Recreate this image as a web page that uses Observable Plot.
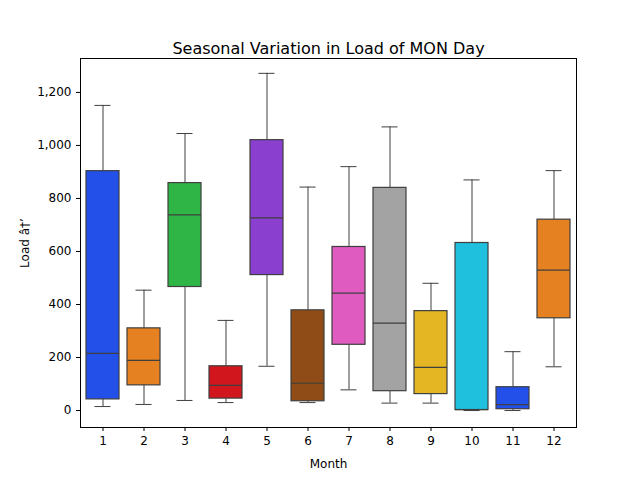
<!DOCTYPE html>
<html><head>
<script src="https://cdn.jsdelivr.net/npm/d3@7"></script>
<script src="https://cdn.jsdelivr.net/npm/@observablehq/plot@0.6"></script>
<style>body{margin:0;background:#fff}</style>
</head><body><div id="chart"></div>
<script>
const months = [1,2,3,4,5,6,7,8,9,10,11,12];
const low    = [15, 23, 38, 30, 167, 30, 78, 28, 28, 0, 0, 165];
const q1     = [42, 95, 466, 45, 511, 35, 248, 73, 62, 2, 5, 348];
const median = [216, 189, 738, 95, 727, 103, 443, 330, 163, 3, 22, 530];
const q3     = [903, 310, 858, 167, 1020, 378, 617, 840, 375, 632, 88, 720];
const high   = [1151, 454, 1045, 340, 1272, 843, 920, 1070, 480, 870, 222, 905];
const colors = ["#2250e8","#e58120","#2fb545","#d2161e","#8a3fcf","#8f4c16","#df5bbf","#a3a3a3","#e4b623","#1fc0de","#2250e8","#e58120"];

const data = months.map((m, i) => ({m, low: low[i], q1: q1[i], med: median[i], q3: q3[i], high: high[i], c: colors[i]}));
const line = "#3f3f3f";

const chart = Plot.plot({
  width: 640, height: 480,
  marginLeft: 80, marginRight: 64, marginTop: 58, marginBottom: 53,
  style: {fontFamily: "DejaVu Sans", fontSize: "12px", color: "#000"},
  x: {type: "band", domain: months, paddingInner: 0.2, paddingOuter: 0.1, label: "Month", labelAnchor: "center", labelOffset: 40, tickSize: 4},
  y: {domain: [-64, 1328], ticks: [0,200,400,600,800,1000,1200], label: "Load", labelAnchor: "center", labelOffset: 60, tickSize: 4},
  marks: [
    Plot.ruleX(data, {x: "m", y1: "low", y2: "q1", stroke: line}),
    Plot.ruleX(data, {x: "m", y1: "q3", y2: "high", stroke: line}),
    Plot.tickY(data, {x: "m", y: "low", stroke: line, insetLeft: 8.5, insetRight: 8.5}),
    Plot.tickY(data, {x: "m", y: "high", stroke: line, insetLeft: 8.5, insetRight: 8.5}),
    Plot.barY(data, {x: "m", y1: "q1", y2: "q3", fill: "c", stroke: line, strokeWidth: 1.2}),
    Plot.tickY(data, {x: "m", y: "med", stroke: line, strokeWidth: 1.2}),
    Plot.frame({stroke: "#000"}),
    Plot.text(["Seasonal Variation in Load of MON Day"], {frameAnchor: "top", dy: -16, fontSize: 16, fill: "#000"})
  ]
});
document.getElementById("chart").append(chart);
</script>
</body></html>
